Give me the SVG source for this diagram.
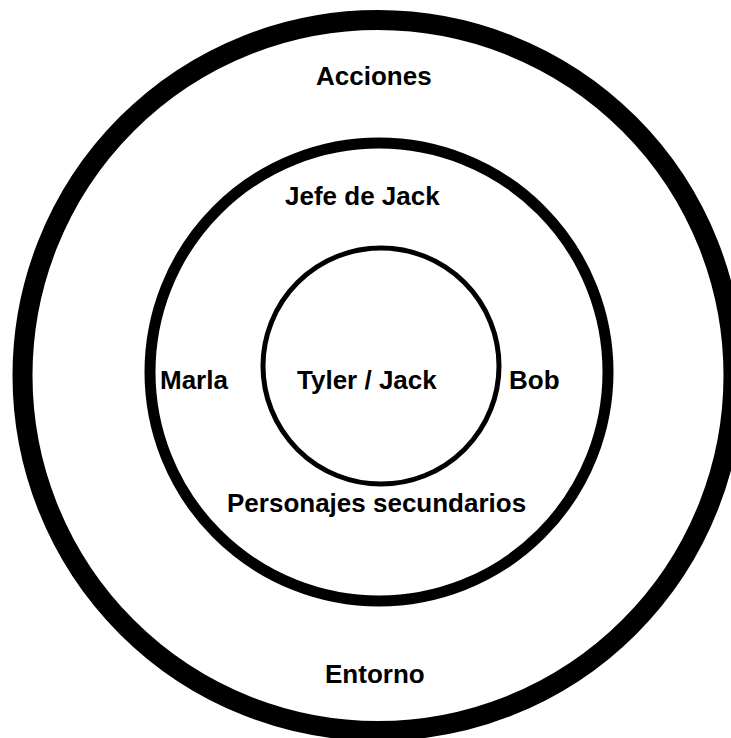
<svg xmlns="http://www.w3.org/2000/svg" width="731" height="738" viewBox="0 0 731 738">
<style>
.ring{fill:none;stroke:#000}
.lbl{font-family:"Liberation Sans",Arial,sans-serif;font-weight:bold;font-size:26px;fill:#000}
</style>
<rect width="731" height="738" fill="#fff"/>
<g id="outer"><circle class="ring" cx="378" cy="375.5" r="355.5" stroke-width="20"/><text class="lbl" x="316" y="85">Acciones</text><text class="lbl" x="325" y="683">Entorno</text></g>
<g id="middle"><circle class="ring" cx="379" cy="372" r="229" stroke-width="11"/><text class="lbl" x="285" y="205">Jefe de Jack</text><text class="lbl" x="160" y="389">Marla</text><text class="lbl" x="509" y="389">Bob</text><text class="lbl" x="227" y="512">Personajes secundarios</text></g>
<g id="inner"><circle class="ring" cx="381" cy="366" r="118" stroke-width="5"/><text class="lbl" x="297" y="389">Tyler / Jack</text></g>
<g id="connectors"/>
</svg>
